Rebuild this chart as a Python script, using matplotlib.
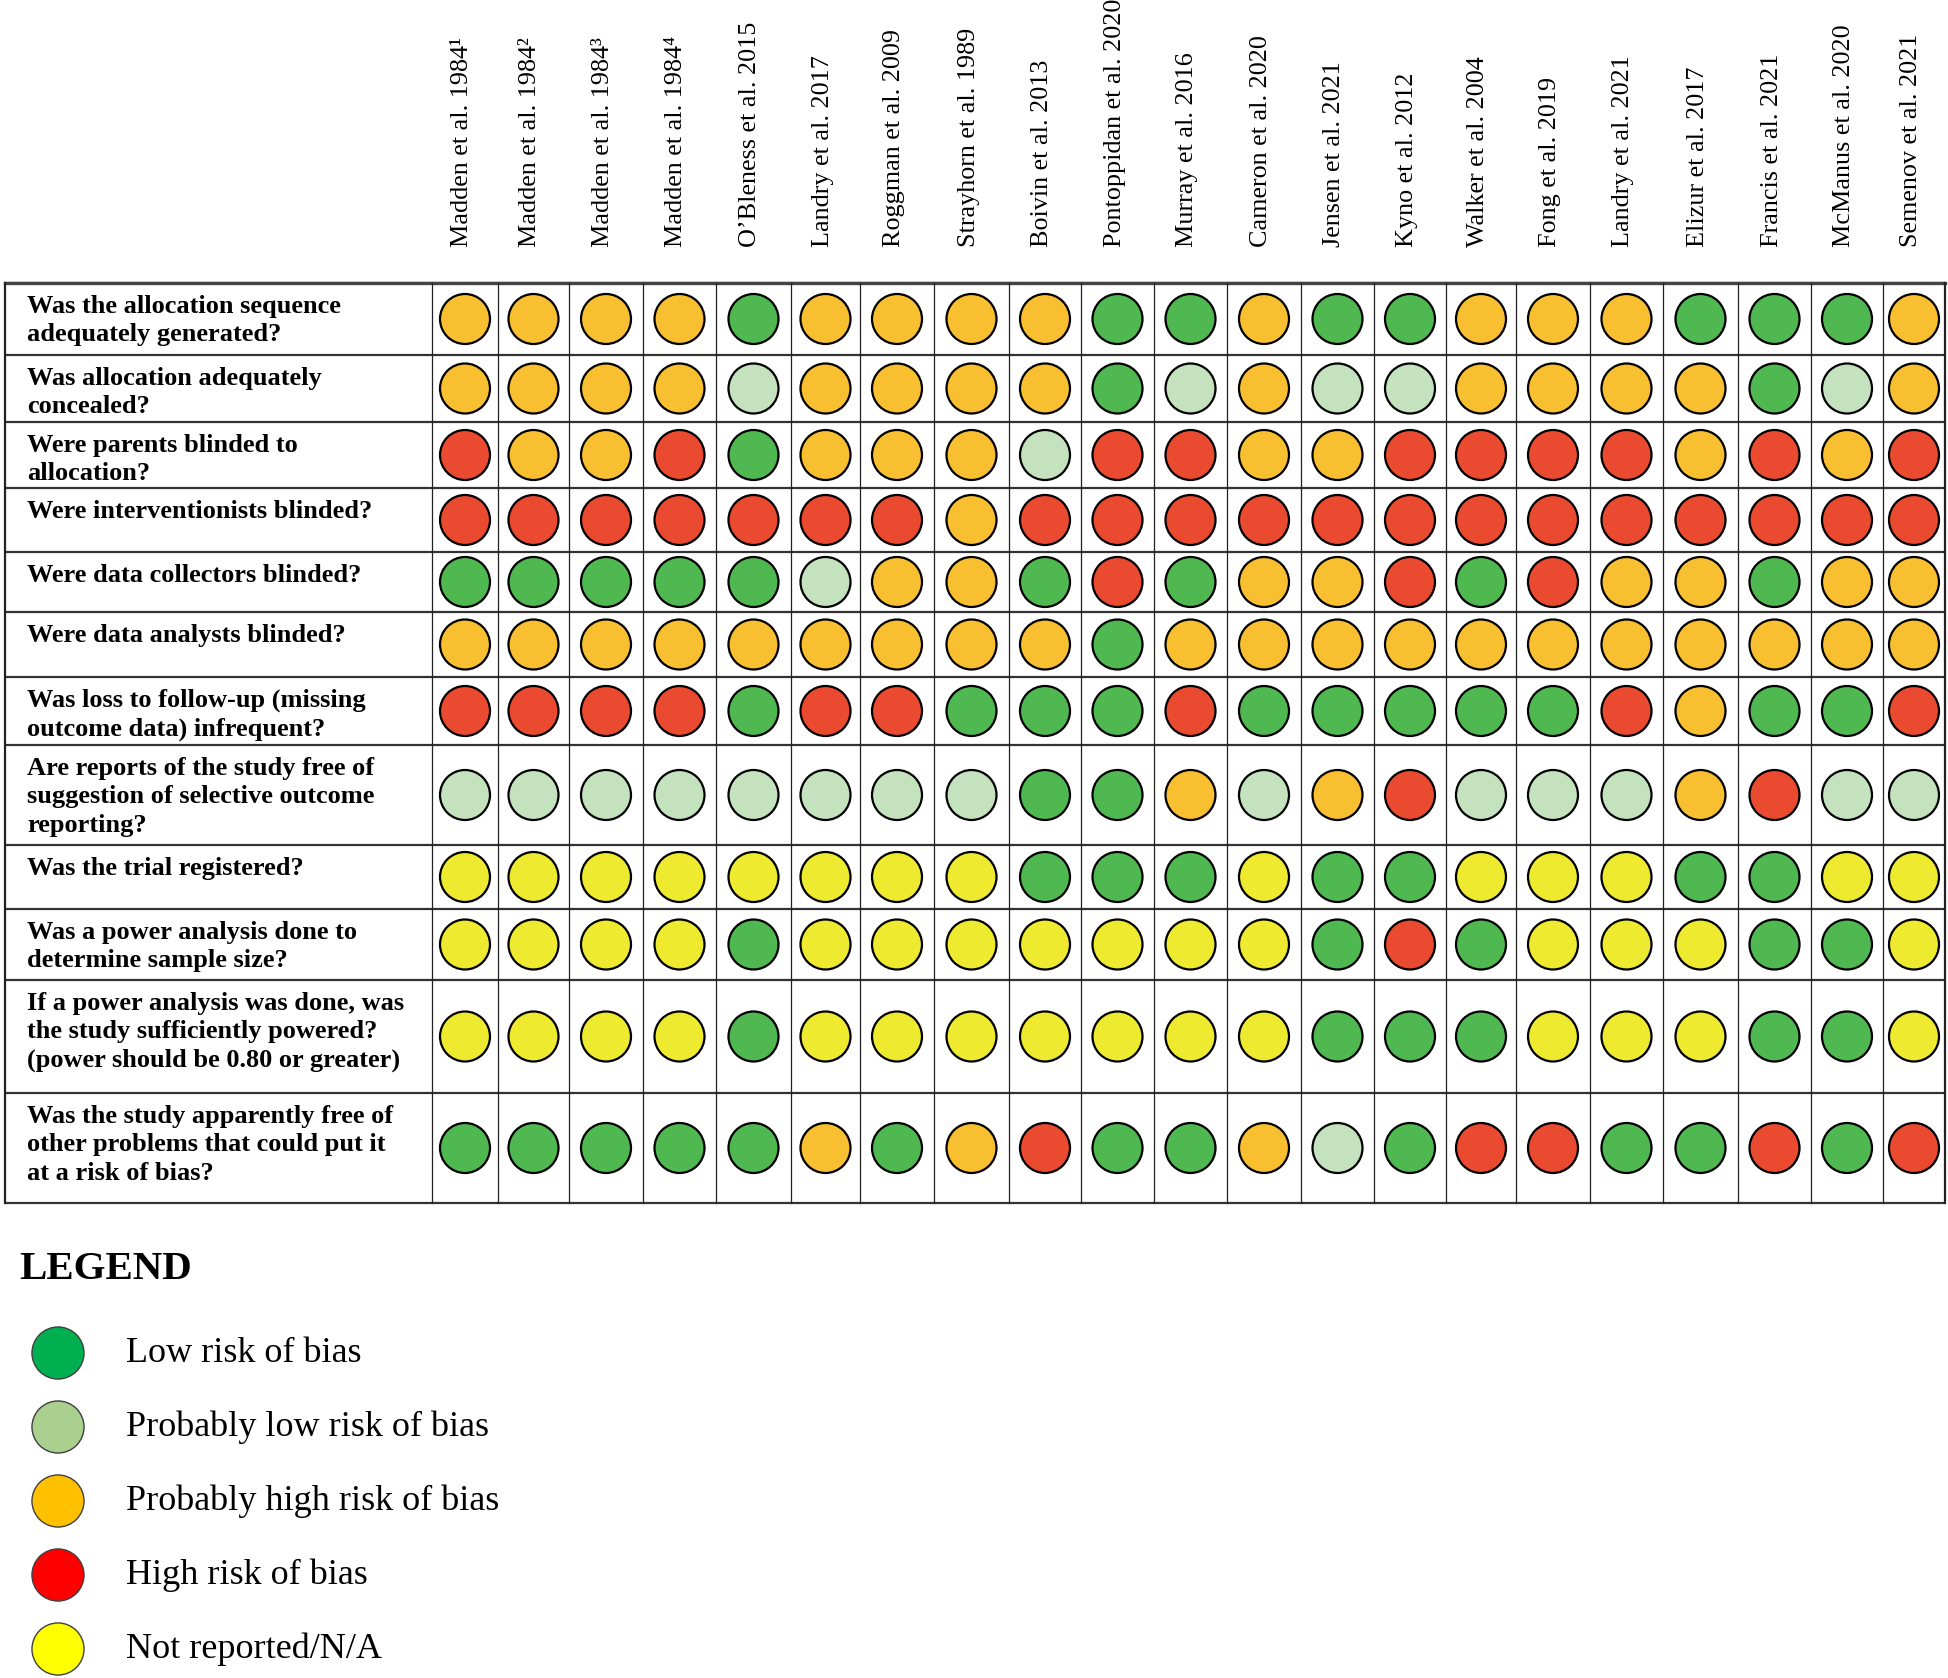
import matplotlib.pyplot as plt
plt.switch_backend('Agg')
plt.rcParams["font.family"] = ["Liberation Serif", "DejaVu Serif"]

studies = ["Madden et al. 1984¹", "Madden et al. 1984²", "Madden et al. 1984³", "Madden et al. 1984⁴",
           "O’Bleness et al. 2015", "Landry et al. 2017", "Roggman et al. 2009", "Strayhorn et al. 1989",
           "Boivin et al. 2013", "Pontoppidan et al. 2020", "Murray et al. 2016", "Cameron et al. 2020",
           "Jensen et al. 2021", "Kyno et al. 2012", "Walker et al. 2004", "Fong et al. 2019",
           "Landry et al. 2021", "Elizur et al. 2017", "Francis et al. 2021", "McManus et al. 2020",
           "Semenov et al. 2021"]

questions = ["Was the allocation sequence\nadequately generated?",
             "Was allocation adequately\nconcealed?",
             "Were parents blinded to\nallocation?",
             "Were interventionists blinded?",
             "Were data collectors blinded?",
             "Were data analysts blinded?",
             "Was loss to follow-up (missing\noutcome data) infrequent?",
             "Are reports of the study free of\nsuggestion of selective outcome\nreporting?",
             "Was the trial registered?",
             "Was a power analysis done to\ndetermine sample size?",
             "If a power analysis was done, was\nthe study sufficiently powered?\n(power should be 0.80 or greater)",
             "Was the study apparently free of\nother problems that could put it\nat a risk of bias?"]

# G low, L probably low, O probably high, R high, Y not reported
ratings = ["O O O O G O O O O G G O G G O O O G G G O".split(),
           "O O O O L O O O O G L O L L O O O O G L O".split(),
           "R O O R G O O O L R R O O R R R R O R O R".split(),
           "R R R R R R R O R R R R R R R R R R R R R".split(),
           "G G G G G L O O G R G O O R G R O O G O O".split(),
           "O O O O O O O O O G O O O O O O O O O O O".split(),
           "R R R R G R R G G G R G G G G G R O G G R".split(),
           "L L L L L L L L G G O L O R L L L O R L L".split(),
           "Y Y Y Y Y Y Y Y G G G Y G G Y Y Y G G Y Y".split(),
           "Y Y Y Y G Y Y Y Y Y Y Y G R G Y Y Y G G Y".split(),
           "Y Y Y Y G Y Y Y Y Y Y Y G G G Y Y Y G G Y".split(),
           "G G G G G O G O R G G O L G R R G G R G R".split()]

legend_codes = ["G", "L", "O", "R", "Y"]
legend_labels = ["Low risk of bias", "Probably low risk of bias", "Probably high risk of bias",
                 "High risk of bias", "Not reported/N/A"]

cell_colors = {"G": "#50b850", "L": "#c4e2bd", "O": "#f8bf30", "R": "#ea4a2f", "Y": "#eeea30"}
legend_colors = {"G": "#00b050", "L": "#a9d08e", "O": "#ffc000", "R": "#ff0000", "Y": "#ffff00"}

# layout in pixels
W, H = 1948, 1678
col_edges = [5, 432, 498, 569, 643, 716, 791, 860, 934, 1009, 1081, 1154, 1227, 1301,
             1374, 1446, 1516, 1590, 1663, 1738, 1811, 1883, 1945]
row_edges = [283, 355, 422, 488, 552, 612, 677, 745, 845, 909, 980, 1093, 1203]

fig = plt.figure(figsize=(W / 100, H / 100), dpi=100)
ax = fig.add_axes([0, 0, 1, 1])
ax.set_xlim(0, W)
ax.set_ylim(H, 0)
ax.axis("off")

# grid
for y in row_edges:
    ax.plot([col_edges[0], col_edges[-1]], [y, y], color="#333333", lw=1.6, solid_capstyle="butt")
ax.plot([col_edges[0], col_edges[-1]], [row_edges[0], row_edges[0]], color="#444444", lw=2.4)
for i, x in enumerate(col_edges):
    lw = 1.6 if i in (0, len(col_edges) - 1) else 0.9
    ax.plot([x, x], [row_edges[0], row_edges[-1]], color="#222222", lw=lw)

col_centers = [(col_edges[j + 1] + col_edges[j + 2]) / 2 for j in range(len(studies))]
row_centers = [(row_edges[i] + row_edges[i + 1]) / 2 for i in range(len(questions))]

# column headers
for j, name in enumerate(studies):
    ax.text(col_centers[j] - 3, 247, name, rotation=90, ha="center", va="bottom", fontsize=18.8)

# question text
for i, q in enumerate(questions):
    ax.text(27, row_edges[i] + 12, q, ha="left", va="top", fontsize=19, fontweight="bold",
            linespacing=1.3)

# circles
xs, ys, cs = [], [], []
for i, row in enumerate(ratings):
    for j, code in enumerate(row):
        xs.append(col_centers[j])
        ys.append(row_centers[i])
        cs.append(cell_colors[code])
ax.scatter(xs, ys, s=36 ** 2, c=cs, edgecolors="black", linewidths=1.6, zorder=3)

# legend
ax.text(19, 1279, "LEGEND", fontsize=29.5, fontweight="bold", ha="left", va="baseline")
leg_y = [1353 + 74 * k for k in range(len(legend_codes))]
ax.scatter([58] * len(legend_codes), leg_y, s=37.5 ** 2,
           c=[legend_colors[c] for c in legend_codes], edgecolors="#404040", linewidths=1.0, zorder=3)
for y, lab in zip(leg_y, legend_labels):
    ax.text(126, y + 9, lab, fontsize=26, ha="left", va="baseline")

fig.savefig("out.png", dpi=100)
